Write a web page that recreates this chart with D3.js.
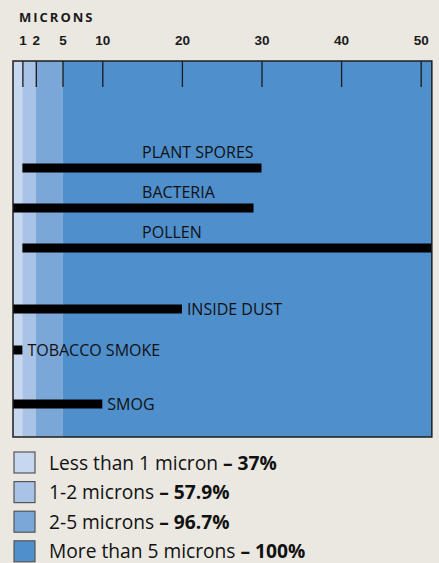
<!DOCTYPE html>
<html>
<head>
<meta charset="utf-8">
<script src="https://cdn.jsdelivr.net/npm/d3@7"></script>
<style>
  body { margin: 0; background: #ebe8e2; }
  svg { display: block; font-family: "Open Sans", "Noto Sans", sans-serif; }
</style>
</head>
<body>
<svg id="chart" width="439" height="563"></svg>
<script>
// size bands (microns) and share of particles caught
var bandNames = ["Less than 1 micron", "1-2 microns", "2-5 microns", "More than 5 microns"];
var bandFrom = [0, 1, 2, 5];
var bandTo = [1, 2, 5, 51.4];
var bandPct = ["37%", "57.9%", "96.7%", "100%"];
var bandColors = ["#c6d7ef", "#a8c3e6", "#7ba7d8", "#4f8fcc"];

// particle size ranges
var particles = ["PLANT SPORES", "BACTERIA", "POLLEN", "INSIDE DUST", "TOBACCO SMOKE", "SMOG"];
var sizeMin = [1, 0, 1, 0, 0, 0];
var sizeMax = [30, 29, 51.4, 20, 1, 10];

var tickValues = [1, 2, 5, 10, 20, 30, 40, 50];

var svg = d3.select("#chart");
var plotTop = 61, plotBottom = 437;

// the scale is stretched below 5 microns, as in the print
var x = d3.scaleLinear()
    .domain([0, 1, 2, 5, 50])
    .range([13, 22.4, 35.8, 62.5, 420.7]);

var y = d3.scaleOrdinal()
    .domain(particles)
    .range([168, 208, 248, 309, 350, 404]);

var plot = svg.append("g");

plot.selectAll(".band")
    .data(bandNames)
    .enter().append("rect")
    .attr("class", "band")
    .attr("x", function (d, i) { return x(bandFrom[i]); })
    .attr("y", plotTop)
    .attr("width", function (d, i) { return x(bandTo[i]) - x(bandFrom[i]); })
    .attr("height", plotBottom - plotTop)
    .attr("fill", function (d, i) { return bandColors[i]; });

// axis on top, ticks pointing into the plot
var axis = svg.append("g")
    .attr("transform", "translate(0," + plotTop + ")")
    .call(d3.axisTop(x).tickValues(tickValues).tickSizeInner(-26).tickSizeOuter(0).tickPadding(16));
axis.select(".domain").remove();
axis.selectAll(".tick line").attr("stroke", "#1a1a1a").attr("stroke-width", 1.3);
axis.selectAll(".tick text")
    .attr("fill", "#1a1a1a")
    .style("font-size", "13.5px")
    .style("font-weight", "bold")
    .attr("dy", 0);

svg.append("text")
    .attr("x", 19)
    .attr("y", 22)
    .attr("fill", "#1a1a1a")
    .style("font-size", "13px")
    .style("font-weight", "bold")
    .style("letter-spacing", "2px")
    .text("MICRONS");

// particle bars
plot.selectAll(".bar")
    .data(particles)
    .enter().append("rect")
    .attr("class", "bar")
    .attr("x", function (d, i) { return x(sizeMin[i]); })
    .attr("y", function (d) { return y(d) - 4.5; })
    .attr("height", 9)
    .attr("width", function (d, i) { return x(sizeMax[i]) - x(sizeMin[i]); })
    .attr("fill", "#000");

// first three labels sit above their bar, the rest follow the bar end
plot.selectAll(".label")
    .data(particles)
    .enter().append("text")
    .attr("class", "label")
    .attr("x", function (d, i) { return i < 3 ? x(15) : x(sizeMax[i]) + 5; })
    .attr("y", function (d, i) { return i < 3 ? y(d) - 10 : y(d); })
    .attr("dy", function (d, i) { return i < 3 ? 0 : "0.36em"; })
    .attr("fill", "#111")
    .style("font-size", "16px")
    .text(function (d) { return d; });

svg.append("rect")
    .attr("x", x(0))
    .attr("y", plotTop)
    .attr("width", x(51.4) - x(0))
    .attr("height", plotBottom - plotTop)
    .attr("fill", "none")
    .attr("stroke", "#1e1e1e")
    .attr("stroke-width", 1.5);

// legend
var legend = svg.append("g");
var row = legend.selectAll(".row")
    .data(bandNames)
    .enter().append("g")
    .attr("class", "row")
    .attr("transform", function (d, i) { return "translate(0," + (463 + i * 29.6) + ")"; });

row.append("rect")
    .attr("x", 14)
    .attr("y", -11)
    .attr("width", 21)
    .attr("height", 21)
    .attr("fill", function (d, i) { return bandColors[i]; })
    .attr("stroke", "#555")
    .attr("stroke-width", 1.2);

var lt = row.append("text")
    .attr("x", 49)
    .attr("y", 6.5)
    .attr("fill", "#111")
    .style("font-size", "19.2px");
lt.append("tspan").text(function (d) { return d + " "; });
lt.append("tspan").style("font-weight", "bold").text(function (d, i) { return "\u2013 " + bandPct[i]; });
</script>
</body>
</html>
